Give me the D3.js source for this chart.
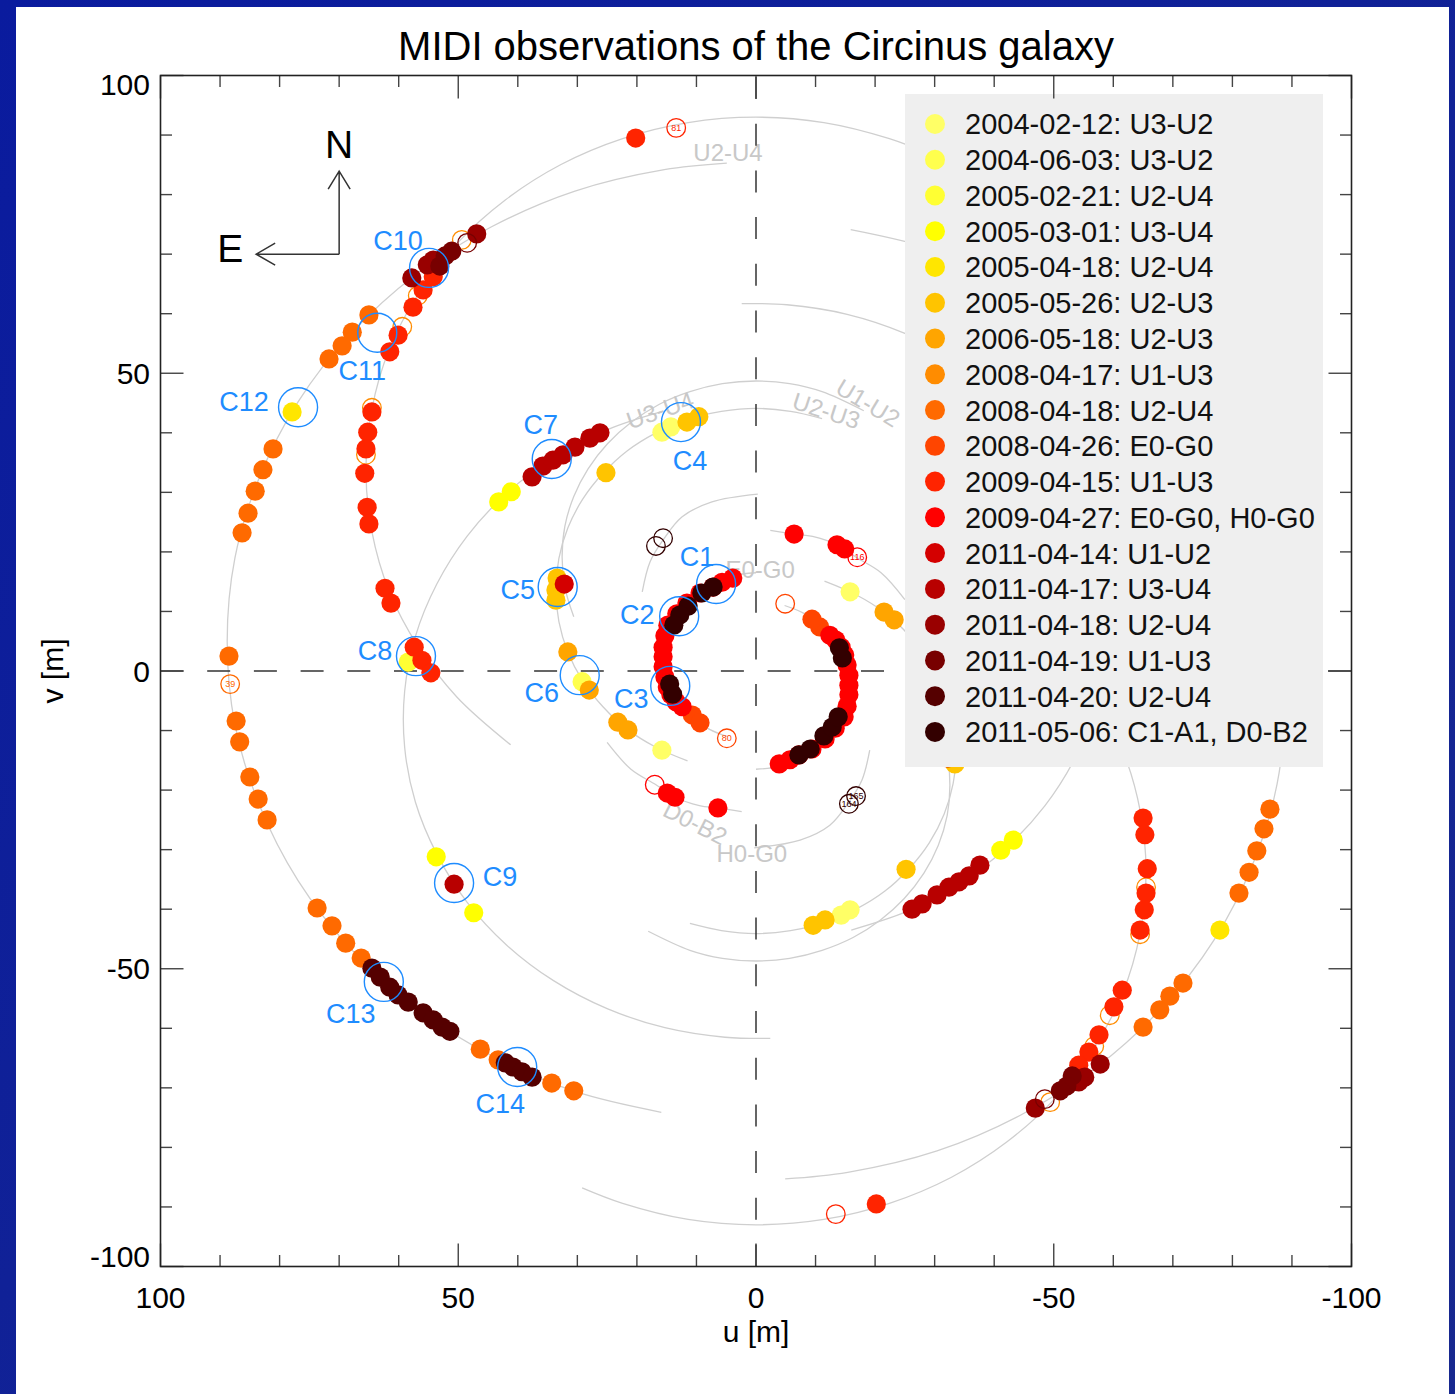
<!DOCTYPE html>
<html>
<head>
<meta charset="utf-8">
<script src="https://cdn.jsdelivr.net/npm/d3@7"></script>
<style>
  body { margin: 0; background: #0c1d9c; }
  text { font-family: "Liberation Sans", Arial, Helvetica, sans-serif; }
</style>
</head>
<body>
<svg id="chart"></svg>
<script>
// legend entries (date: baseline) and their colours
const legendLabels = [
  '2004-02-12: U3-U2', '2004-06-03: U3-U2', '2005-02-21: U2-U4', '2005-03-01: U3-U4',
  '2005-04-18: U2-U4', '2005-05-26: U2-U3', '2006-05-18: U2-U3', '2008-04-17: U1-U3',
  '2008-04-18: U2-U4', '2008-04-26: E0-G0', '2009-04-15: U1-U3', '2009-04-27: E0-G0, H0-G0',
  '2011-04-14: U1-U2', '2011-04-17: U3-U4', '2011-04-18: U2-U4', '2011-04-19: U1-U3',
  '2011-04-20: U2-U4', '2011-05-06: C1-A1, D0-B2'
]
const seriesColors = [
  '#ffff66', '#ffff4d', '#ffff33', '#ffff00', '#ffe600', '#ffc400', '#ffa500', '#ff8c00',
  '#ff6a00', '#ff4500', '#ff2400', '#ff0000', '#d40000', '#b80000', '#990000', '#780000',
  '#550000', '#330000'
]

// (u, v) in metres; every point is also plotted at (-u, -v)
const obs20040212 = [[15.8, 40.1], [14.3, 41.0], [15.8, -13.3]]
const obs20040603 = [[29.2, -1.8]]
const obs20050221 = [[58.4, 1.5]]
const obs20050301 = [[43.2, 28.4], [41.1, 30.1], [53.7, -31.2], [47.4, -40.6]]
const obs20050418 = [[77.9, 43.5]]
const obs20050526 = [[11.6, 41.8], [9.6, 42.7], [25.2, 33.3], [33.4, 15.6], [33.6, 13.6], [33.6, 11.9]]
const obs20060518 = [[31.6, 3.2], [28.0, -3.2], [23.2, -8.6], [21.5, -9.9]]
const obs20080417 = []
const obs20080418 = [
  [65.0, 59.8], [67.8, 56.9], [69.5, 54.6], [71.7, 52.4], [81.1, 37.3], [82.8, 33.8],
  [84.1, 30.2], [85.3, 26.5], [86.3, 23.2], [88.5, 2.5], [87.3, -8.4], [86.7, -11.9],
  [85.0, -17.8], [83.6, -21.5], [82.1, -25.0], [73.7, -39.8], [71.2, -42.8], [68.9, -45.7],
  [66.3, -48.2], [46.3, -63.5], [43.3, -65.3], [34.3, -69.2], [30.6, -70.5]
]
const obs20080426 = [[10.7, -7.4], [9.4, -8.7]]
const obs20090415 = [
  [64.5, 43.5], [65.2, 40.1], [65.5, 37.3], [65.7, 33.2], [65.3, 27.5], [65.0, 24.7],
  [62.3, 13.9], [61.3, 11.4], [57.4, 4.0], [56.1, 1.8], [54.6, -0.3], [61.5, 53.6],
  [60.1, 56.4], [57.6, 61.1], [55.9, 64.0], [54.2, 66.2], [20.2, 89.5]
]
const obs20090427 = [
  [3.9, 15.6], [5.7, 14.9], [7.2, 14.1], [9.4, 13.1], [11.6, 11.4], [13.3, 9.6], [14.8, 7.7],
  [15.3, 5.9], [15.6, 4.0], [15.6, 2.4], [15.6, 0.7], [15.3, -1.0], [14.9, -2.7], [14.3, -4.0],
  [13.4, -5.2], [12.4, -6.0], [14.9, -20.5], [13.6, -21.2], [6.4, -23.0]
]
const obs20110414 = [[32.2, 14.6]]
const obs20110417 = [
  [37.6, 32.6], [35.8, 34.4], [34.1, 35.4], [32.4, 36.3], [30.4, 37.6], [27.9, 39.1],
  [26.2, 40.0], [50.7, -35.8]
]
const obs20110418 = [[57.8, 66.0], [55.2, 68.2], [54.2, 69.0], [46.9, 73.4]]
const obs20110419 = [[53.1, 68.0], [52.2, 69.7], [51.1, 70.5]]
const obs20110420 = [
  [64.5, -49.9], [63.1, -51.4], [61.5, -53.1], [60.1, -54.4], [58.4, -55.6], [55.9, -57.4],
  [54.2, -58.6], [52.7, -59.8], [51.4, -60.5], [42.1, -65.8], [40.8, -66.5], [39.3, -67.3],
  [37.6, -68.2]
]
const obs20110506 = [[7.2, 14.1], [9.1, 13.1], [11.4, 10.9], [12.8, 9.4], [13.8, 7.7], [14.5, -2.2], [14.0, -3.9]]

const observations = [
  obs20040212, obs20040603, obs20050221, obs20050301, obs20050418, obs20050526,
  obs20060518, obs20080417, obs20080418, obs20080426, obs20090415, obs20090427,
  obs20110414, obs20110417, obs20110418, obs20110419, obs20110420, obs20110506
]

// rejected measurements: [series, u, v, frame number]
const openPoints = [
  [7, 64.5, 44.2, ''], [7, 65.5, 36.3, ''], [7, 59.4, 57.8, ''], [7, 56.8, 63.0, ''], [7, 49.4, 72.4, ''],
  [8, 88.3, -2.2, '39'], [9, 4.9, -11.3, '80'], [10, 13.4, 91.2, '81'], [11, -17.0, 19.1, '116'],
  [15, 48.5, 71.9, ''], [17, -15.6, -22.3, '164'], [17, -16.8, -21.0, '165']
]

// calibrated points C1..C14
const calibrators = [
  ['C1', 6.7, 14.6], ['C2', 12.9, 9.2], ['C3', 14.4, -2.5], ['C4', 12.6, 41.8],
  ['C5', 33.3, 14.1], ['C6', 29.6, -0.7], ['C7', 34.3, 35.6], ['C8', 57.1, 2.5],
  ['C9', 50.7, -35.6], ['C10', 54.9, 67.7], ['C11', 63.6, 56.8], ['C12', 76.9, 44.3],
  ['C13', 62.5, -52.2], ['C14', 40.1, -66.5]
]

// baseline tracks (each also drawn mirrored)
const trackU2U4 = [[15.9, -74.1], [30.4, -70.6], [44.4, -64.6], [57.1, -56.6], [68.0, -46.7], [76.9, -35.2], [83.4, -22.5], [87.5, -9.0], [88.8, 5.0], [87.5, 19.0], [83.4, 32.5], [76.9, 45.2], [68.0, 56.7], [57.1, 66.6], [44.4, 74.6], [30.4, 80.6], [15.4, 84.2], [4.9, 85.3]]
const trackU1U3 = [[41.2, -12.4], [50.2, -4.4], [56.7, 4.05], [61.6, 13.4], [64.5, 23.4], [65.5, 33.7], [64.5, 44.0], [61.6, 54.0], [56.7, 63.35], [50.2, 71.8], [42.1, 79.1], [32.75, 85.05], [22.4, 89.4], [11.4, 92.1], [0, 93.0], [-11.4, 92.1], [-22.4, 89.4], [-29.2, 86.8]]
const trackU3U4 = [[16.0, 43.5], [25.0, 40.5], [34.0, 35.8], [41.9, 29.8], [48.5, 22.65], [53.6, 14.6], [57.2, 5.8], [59.0, -3.4], [59.0, -12.8], [57.2, -22.0], [53.6, -30.75], [48.5, -38.85], [41.9, -46.0], [34.0, -52.0], [25.0, -56.7], [15.3, -59.9], [5.2, -61.5], [-2.4, -61.7]]
const trackU2U3 = [[-11.1, 42.4], [-5.8, 43.6], [0, 44.1], [5.8, 43.6], [11.5, 42.3], [16.8, 40.0], [21.6, 37.0], [25.7, 33.2], [29.1, 28.85], [31.6, 24.0], [33.1, 18.9], [33.6, 13.6], [33.1, 8.3], [31.6, 3.2], [29.1, -1.65], [25.7, -6.0], [21.6, -9.8], [16.8, -12.8], [11.5, -15.1]]
const trackU1U2 = [[-18.1, 43.7], [-11.1, 46.9], [-5.65, 48.25], [0, 48.7], [5.65, 48.25], [11.1, 46.9], [16.3, 44.75], [20.9, 41.8], [24.9, 38.2], [28.2, 33.95], [30.6, 29.3], [32.1, 24.3], [32.56, 19.2], [32.1, 14.1], [30.6, 9.1]]
const trackE0G0 = [[0, 16.5], [4.0, 16.0], [7.8, 14.6], [11.0, 12.4], [13.5, 9.45], [15.1, 6.05], [15.6, 2.4], [15.1, -1.25], [13.5, -4.65], [11.0, -7.6], [7.8, -9.8], [4.8, -11.0]]
const trackH0G0 = [[25, -12], [21, -16.5], [16.8, -19.1], [13.6, -21.2], [9.5, -22.6], [6.4, -23.0], [2.4, -23.6]]
const trackC1A1 = [[-19.1, -13.3], [-17.8, -18.3], [-15.6, -22.0], [-12.4, -25.9], [-7.4, -28.4], [0.3, -29.7]]
const tracks = [trackU2U4, trackU1U3, trackU3U4, trackU2U3, trackU1U2, trackE0G0, trackH0G0, trackC1A1]

const trackLabels = [
  ['U2-U4', 4.7, 87.0], ['U3-U4', 16.1, 43.8], ['U1-U2', -18.8, 45.0], ['U2-U3', -11.8, 43.7],
  ['E0-G0', -0.7, 17.0], ['D0-B2', 10.2, -25.5], ['H0-G0', 0.7, -30.6]
]

const majorTicks = [100, 50, 0, -50, -100]
const minorTicks = d3.range(-100, 101, 10)

// ---------------------------------------------------------------
const W = 1455
const H = 1394
const svg = d3.select('#chart').attr('width', W).attr('height', H)

const x = d3.scaleLinear().domain([100, -100]).range([160.5, 1351.5])
const y = d3.scaleLinear().domain([100, -100]).range([75.5, 1266.5])

const defs = svg.append('defs')
const grad = defs.append('linearGradient').attr('id', 'bg').attr('x1', 0).attr('x2', 1).attr('y1', 0).attr('y2', 1)
grad.append('stop').attr('offset', 0).attr('stop-color', '#0a1b9e')
grad.append('stop').attr('offset', 1).attr('stop-color', '#17288f')
svg.append('rect').attr('width', W).attr('height', H).attr('fill', 'url(#bg)')
svg.append('rect').attr('x', 16).attr('y', 7).attr('width', 1433).attr('height', H).attr('fill', '#fff')

const plot = svg.append('g')

// tracks
const line = d3.line().x(d => x(d[0])).y(d => y(d[1])).curve(d3.curveCatmullRom)
tracks.forEach(t => {
  ;[t, t.map(([u, v]) => [-u, -v])].forEach(path => {
    plot.append('path').attr('d', line(path)).attr('fill', 'none')
      .attr('stroke', '#cfcfcf').attr('stroke-width', 1.3)
  })
})

const labelAngle = { 'U2-U4': 0, 'U3-U4': -19, 'U1-U2': 31, 'U2-U3': 18, 'E0-G0': 0, 'D0-B2': 27, 'H0-G0': 0 }
plot.selectAll('text.track').data(trackLabels).enter().append('text')
  .attr('class', 'track')
  .attr('transform', d => `translate(${x(d[1])},${y(d[2])}) rotate(${labelAngle[d[0]]})`)
  .attr('text-anchor', 'middle').attr('dy', '0.35em')
  .attr('font-size', 24).attr('fill', '#c8c8c8')
  .text(d => d[0])

// zero lines
plot.append('line').attr('x1', x(0)).attr('x2', x(0)).attr('y1', y(100) + 1.5).attr('y2', y(-100))
  .attr('stroke', '#333').attr('stroke-width', 1.5).attr('stroke-dasharray', '22,24.7')
plot.append('line').attr('x1', x(100)).attr('x2', x(-100)).attr('y1', y(0)).attr('y2', y(0))
  .attr('stroke', '#333').attr('stroke-width', 1.5).attr('stroke-dasharray', '23,23.7')

// observations: each point and its conjugate, layered by date
const marks = []
observations.forEach((pts, i) => {
  pts.forEach(([u, v]) => {
    marks.push({ i, u, v, open: false })
    marks.push({ i, u: -u, v: -v, open: false })
  })
})
openPoints.forEach(([i, u, v, label]) => {
  marks.push({ i, u, v, open: true, label })
  marks.push({ i, u: -u, v: -v, open: true, label: '' })
})
marks.sort((a, b) => a.i - b.i)

const markG = plot.selectAll('g.mark').data(marks).enter().append('g')
  .attr('class', 'mark')
  .attr('transform', d => `translate(${x(d.u)},${y(d.v)})`)
markG.append('circle')
  .attr('r', d => (d.open ? 9.3 : 9.6))
  .attr('fill', d => (d.open ? 'none' : seriesColors[d.i]))
  .attr('stroke', d => (d.open ? seriesColors[d.i] : 'none'))
  .attr('stroke-width', 1.3)
markG.filter(d => d.open && d.label).append('text')
  .attr('text-anchor', 'middle').attr('dy', '0.35em')
  .attr('font-size', 9).attr('fill', d => seriesColors[d.i])
  .text(d => d.label)

// calibrator circles and names
const calOffset = {
  C1: [-19, -28], C2: [-42, -2], C3: [-39, 12], C4: [9, 38], C5: [-40, 2], C6: [-38, 17],
  C7: [-11, -35], C8: [-41, -6], C9: [46, -7], C10: [-31, -28], C11: [-15, 38],
  C12: [-54, -6], C13: [-33, 31], C14: [-17, 36]
}
const calG = plot.selectAll('g.cal').data(calibrators).enter().append('g')
  .attr('class', 'cal')
  .attr('transform', d => `translate(${x(d[1])},${y(d[2])})`)
calG.append('circle').attr('r', 19.5).attr('fill', 'none').attr('stroke', '#1e8cff').attr('stroke-width', 1.4)
calG.append('text')
  .attr('x', d => calOffset[d[0]][0]).attr('y', d => calOffset[d[0]][1])
  .attr('dy', '0.36em').attr('text-anchor', 'middle')
  .attr('font-size', 27).attr('fill', '#1e8cff')
  .text(d => d[0])

// compass
const compass = plot.append('g').attr('transform', `translate(${x(70)},${y(70)})`)
  .attr('stroke', '#333').attr('stroke-width', 1.5).attr('fill', 'none')
compass.append('path').attr('d', 'M0,0V-83M-11,-65L0,-83L11,-65')
compass.append('path').attr('d', 'M0,0H-83M-64,-11L-83,0L-64,11')
plot.append('text').attr('x', x(70)).attr('y', y(70) - 96).attr('text-anchor', 'middle')
  .attr('font-size', 39).attr('fill', '#000').text('N')
plot.append('text').attr('x', x(70) - 109).attr('y', y(70) + 8).attr('text-anchor', 'middle')
  .attr('font-size', 39).attr('fill', '#000').text('E')

// legend
const legend = svg.append('g')
legend.append('rect').attr('x', 905).attr('y', 94).attr('width', 418).attr('height', 673).attr('fill', '#efefef')
const legendRow = legend.selectAll('g.row').data(legendLabels).enter().append('g')
  .attr('class', 'row')
  .attr('transform', (d, i) => `translate(935,${124 + i * 35.76})`)
legendRow.append('circle').attr('r', 10).attr('fill', (d, i) => seriesColors[i])
legendRow.append('text').attr('x', 30).attr('dy', '0.36em').attr('font-size', 29).attr('fill', '#111').text(d => d)

// frame and ticks
const axes = svg.append('g').attr('stroke', '#444').attr('stroke-width', 1.4)
const tickLen = t => (majorTicks.includes(t) ? 23 : 11.5)
minorTicks.forEach(t => {
  axes.append('line').attr('x1', x(t)).attr('x2', x(t)).attr('y1', y(-100)).attr('y2', y(-100) - tickLen(t))
  axes.append('line').attr('x1', x(t)).attr('x2', x(t)).attr('y1', y(100)).attr('y2', y(100) + tickLen(t))
  axes.append('line').attr('y1', y(t)).attr('y2', y(t)).attr('x1', x(100)).attr('x2', x(100) + tickLen(t))
  axes.append('line').attr('y1', y(t)).attr('y2', y(t)).attr('x1', x(-100)).attr('x2', x(-100) - tickLen(t))
})
svg.append('rect').attr('x', x(100)).attr('y', y(100)).attr('width', x(-100) - x(100)).attr('height', y(-100) - y(100))
  .attr('fill', 'none').attr('stroke', '#222').attr('stroke-width', 1.6)

svg.selectAll('text.xt').data(majorTicks).enter().append('text')
  .attr('x', d => x(d)).attr('y', 1308).attr('text-anchor', 'middle')
  .attr('font-size', 30).attr('fill', '#000').text(d => String(d))
svg.selectAll('text.yt').data(majorTicks).enter().append('text')
  .attr('x', 150).attr('y', d => Math.min(Math.max(y(d), y(100) + 9), y(-100) - 10) + 10.5)
  .attr('text-anchor', 'end')
  .attr('font-size', 30).attr('fill', '#000').text(d => String(d))

svg.append('text').attr('x', x(0)).attr('y', 1342).attr('text-anchor', 'middle')
  .attr('font-size', 30).attr('fill', '#000').text('u [m]')
svg.append('text').attr('transform', `translate(63,${y(0)}) rotate(-90)`).attr('text-anchor', 'middle')
  .attr('font-size', 30).attr('fill', '#000').text('v [m]')

svg.append('text').attr('x', 756).attr('y', 60).attr('text-anchor', 'middle')
  .attr('font-size', 40).attr('fill', '#000').text('MIDI observations of the Circinus galaxy')
</script>
</body>
</html>
